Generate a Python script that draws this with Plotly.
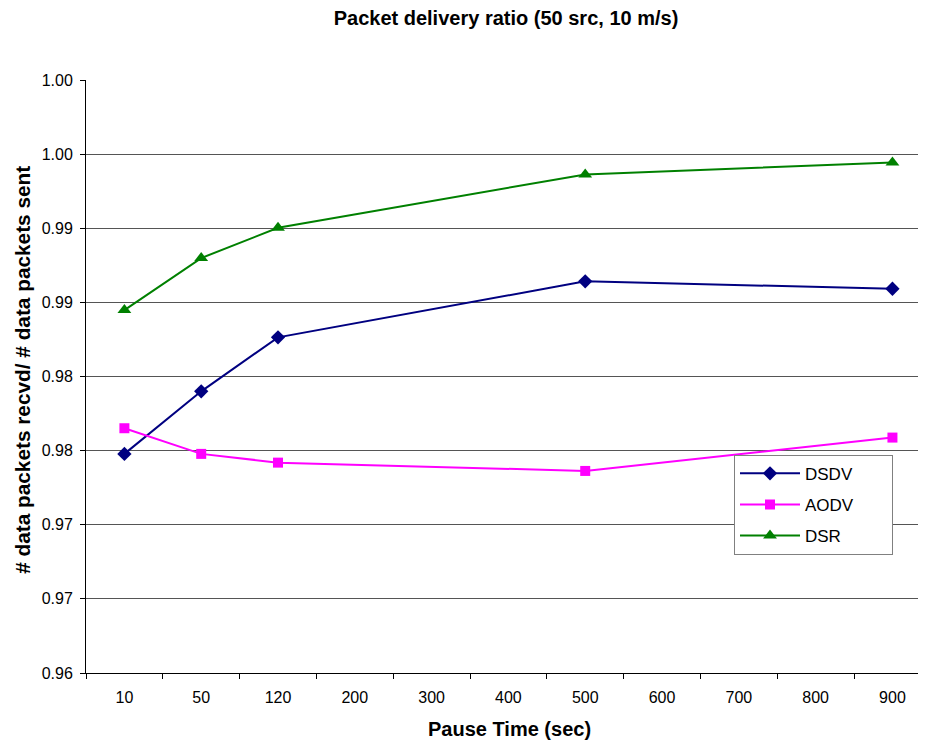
import plotly.graph_objects as go

categories = ["10", "50", "120", "200", "300", "400", "500", "600", "700", "800", "900"]
x_points = ["10", "50", "120", "500", "900"]
dsdv = [0.97478, 0.97900, 0.98264, 0.98642, 0.98592]
aodv = [0.97651, 0.97478, 0.97419, 0.97363, 0.97588]
dsr = [0.98448, 0.98799, 0.99003, 0.99363, 0.99443]
y_tickvals = [0.960, 0.965, 0.970, 0.975, 0.980, 0.985, 0.990, 0.995, 1.000]
y_ticktext = ["0.96", "0.97", "0.97", "0.98", "0.98", "0.99", "0.99", "1.00", "1.00"]

FONT = "Liberation Sans, Arial, sans-serif"
PAD = "&nbsp;" * 7

fig = go.Figure()
fig.add_trace(go.Scatter(x=x_points, y=dsdv, name="DSDV" + PAD, mode="lines+markers",
                         line=dict(color="#000080", width=2),
                         marker=dict(symbol="diamond", size=11, color="#000080"),
                         legendgroup="a"))
fig.add_trace(go.Scatter(x=x_points, y=aodv, name="AODV" + PAD, mode="lines+markers",
                         line=dict(color="#FF00FF", width=2),
                         marker=dict(symbol="square", size=10, color="#FF00FF"),
                         legendgroup="b"))
fig.add_trace(go.Scatter(x=x_points, y=dsr, name="DSR" + PAD, mode="lines+markers",
                         line=dict(color="#008000", width=2),
                         marker=dict(symbol="triangle-up", size=12, color="#008000"),
                         legendgroup="c"))

# page body has an 8px margin: figure occupies 918x737 of the 926x745 window
W, H = 918, 737
fig.update_layout(
    width=W, height=H,
    margin=dict(l=78, r=0, t=72, b=72),
    paper_bgcolor="white", plot_bgcolor="white",
    font=dict(family=FONT, color="black", size=16),
    title=dict(text="<b>Packet delivery ratio (50 src, 10 m/s)</b>",
               font=dict(size=20, family=FONT, color="black"),
               x=498/W, xanchor="center", y=1-10/H, yanchor="middle"),
    showlegend=True,
    legend=dict(x=(734-86)/840, xanchor="left", y=(673.3-455)/593.3, yanchor="top",
                bordercolor="#808080", borderwidth=1, bgcolor="white",
                font=dict(size=17, family=FONT, color="black"),
                traceorder="grouped", tracegroupgap=6, itemwidth=60),
    xaxis=dict(type="category", categoryorder="array", categoryarray=categories,
               range=[-0.5, 10.437], showgrid=False, showline=True, linecolor="black",
               linewidth=1, ticks="outside", ticklen=5, tickcolor="black",
               tickson="boundaries", tickfont=dict(size=16, family=FONT),
               zeroline=False, ticklabelstandoff=10),
    yaxis=dict(range=[0.96, 1.0], tickvals=y_tickvals, ticktext=y_ticktext,
               showgrid=True, gridcolor="#555555", gridwidth=1,
               showline=True, linecolor="black", linewidth=1,
               ticks="outside", ticklen=5, tickcolor="black",
               tickfont=dict(size=16, family=FONT), zeroline=False,
               ticklabelstandoff=4),
    annotations=[
        dict(text="<b># data packets recvd/ # data packets sent</b>", textangle=-90,
             xref="paper", yref="paper", x=(23-86)/840, y=(673.3-370)/593.3,
             xanchor="center", yanchor="middle", showarrow=False,
             font=dict(size=20.8, family=FONT, color="black")),
        dict(text="<b>Pause Time (sec)</b>",
             xref="paper", yref="paper", x=(509-86)/840, y=(673.3-729)/593.3,
             xanchor="center", yanchor="middle", showarrow=False,
             font=dict(size=20, family=FONT, color="black")),
    ],
)

fig.write_html("out.html")
